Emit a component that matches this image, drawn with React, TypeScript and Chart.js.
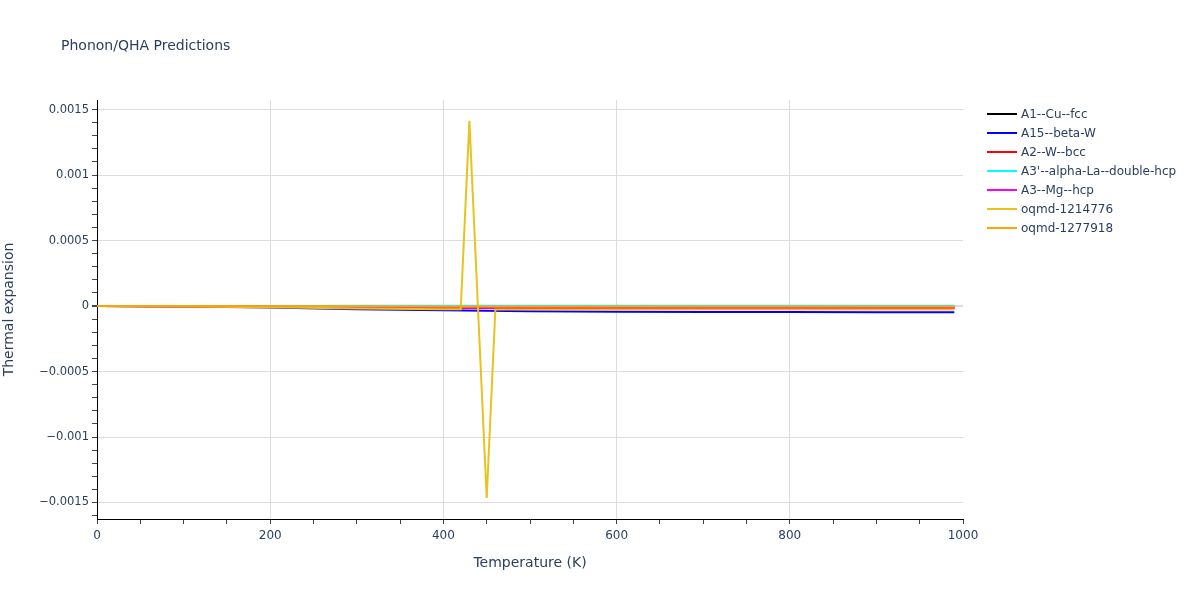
import React, { useEffect, useRef } from "react";
import { Chart, registerables } from "chart.js";

Chart.register(...registerables);

// ---------- data ----------
const chartTitle = "Phonon/QHA Predictions";
const xAxisTitle = "Temperature (K)";
const yAxisTitle = "Thermal expansion";

const seriesNames = [
  "A1--Cu--fcc",
  "A15--beta-W",
  "A2--W--bcc",
  "A3'--alpha-La--double-hcp",
  "A3--Mg--hcp",
  "oqmd-1214776",
  "oqmd-1277918",
];
const seriesColors = ["#000000", "#0000ff", "#ff0000", "#00ffff", "#ff00ff", "#e8c21f", "#ffa500"];

const baseTemps = [0, 100, 200, 300, 400, 500, 600, 700, 800, 900, 990];
const a1Values = [0, -0.000002, -0.000006, -0.000008, -0.000009, -0.00001, -0.00001, -0.000011, -0.000011, -0.000011, -0.000011];
const a15Values = [0, -0.000003, -0.000012, -0.000025, -0.000033, -0.00004, -0.000043, -0.000045, -0.000046, -0.000047, -0.000048];
const a2Values = [0, -0.000001, -0.000005, -0.00001, -0.000014, -0.000015, -0.000016, -0.000016, -0.000017, -0.000017, -0.000017];
const a3pValues = [0, 0.000001, 0.000001, 0.000002, 0.000002, 0.000002, 0.000002, 0.000002, 0.000002, 0.000002, 0.000002];
const a3Values = [0, -0.000001, -0.000004, -0.000007, -0.000009, -0.00001, -0.00001, -0.000011, -0.000011, -0.000011, -0.000011];
const oqmd1214776Temps = [0, 100, 200, 300, 400, 420, 430, 450, 460, 500, 600, 700, 800, 900, 990];
const oqmd1214776Values = [0, -0.000003, -0.00001, -0.000018, -0.000024, -0.000025, 0.001414, -0.001466, -0.000027, -0.000027, -0.000027, -0.000027, -0.000027, -0.000027, -0.000027];
const oqmd1277918Values = [0, 0, -0.000001, -0.000002, -0.000003, -0.000004, -0.000004, -0.000004, -0.000004, -0.000004, -0.000004];

const seriesTemps = [baseTemps, baseTemps, baseTemps, baseTemps, baseTemps, oqmd1214776Temps, baseTemps];
const seriesValues = [a1Values, a15Values, a2Values, a3pValues, a3Values, oqmd1214776Values, oqmd1277918Values];

const xMin = 0;
const xMax = 1000;
const yMin = -0.001626;
const yMax = 0.001573;

// ---------- styling ----------
const FONT = "'DejaVu Sans', Verdana, sans-serif";
const TEXT = "#2a3f5f";
const GRID = "#dddddd";

const overlayPlugin = {
  id: "overlay",
  afterDraw(chart: any) {
    const ctx = chart.ctx;
    ctx.save();
    ctx.fillStyle = TEXT;
    ctx.font = `14px ${FONT}`;
    ctx.textBaseline = "middle";
    ctx.textAlign = "left";
    ctx.fillText(chartTitle, 61, 46);

    ctx.font = `12px ${FONT}`;
    seriesNames.forEach((name, i) => {
      const y = 114 + i * 19;
      ctx.strokeStyle = seriesColors[i];
      ctx.lineWidth = 2;
      ctx.beginPath();
      ctx.moveTo(987, y);
      ctx.lineTo(1017, y);
      ctx.stroke();
      ctx.fillStyle = TEXT;
      ctx.fillText(name, 1021, y + 1);
    });
    ctx.restore();
  },
};

function isMultiple(v: number, step: number) {
  const k = Math.round(v / step);
  return Math.abs(k * step - v) < step * 1e-6;
}

export default function App() {
  const canvasRef = useRef<HTMLCanvasElement | null>(null);

  useEffect(() => {
    document.body.style.margin = "0";
    const canvas = canvasRef.current;
    if (!canvas) return;
    const n = seriesNames.length;
    const datasets = seriesNames.map((name, i) => ({
      label: name,
      data: seriesTemps[i].map((t, j) => ({ x: t, y: seriesValues[i][j] })),
      borderColor: seriesColors[i],
      backgroundColor: seriesColors[i],
      borderWidth: 2,
      pointRadius: 0,
      tension: 0,
      fill: false,
      order: n - i,
    }));

    const chart = new Chart(canvas, {
      type: "line",
      data: { datasets },
      plugins: [overlayPlugin],
      options: {
        animation: false,
        responsive: false,
        maintainAspectRatio: false,
        layout: { padding: { left: 0, right: 237, top: 100, bottom: 0 } },
        plugins: { legend: { display: false }, tooltip: { enabled: false }, title: { display: false } },
        scales: {
          x: {
            type: "linear",
            min: xMin,
            max: xMax,
            afterFit: (s: any) => {
              s.height = 81;
            },
            border: { color: "#000000", width: 1 },
            grid: {
              color: (c: any) => {
                const v = c.tick ? c.tick.value : NaN;
                if (!isMultiple(v, 200) || v === xMin || v === xMax) return "rgba(0,0,0,0)";
                return GRID;
              },
              tickColor: "#444444",
              tickLength: 5,
            },
            ticks: {
              stepSize: 50,
              autoSkip: false,
              includeBounds: false,
              maxRotation: 0,
              padding: 5,
              color: TEXT,
              font: { family: FONT, size: 12 },
              callback: (v: any) => (isMultiple(Number(v), 200) ? String(Math.round(Number(v))) : ""),
            },
            title: {
              display: true,
              text: xAxisTitle,
              color: TEXT,
              font: { family: FONT, size: 14 },
              padding: { top: 0, bottom: 28.6 },
            },
          },
          y: {
            type: "linear",
            min: yMin,
            max: yMax,
            afterFit: (s: any) => {
              s.width = 97;
            },
            border: { color: "#000000", width: 1 },
            grid: {
              color: (c: any) => {
                const v = c.tick ? c.tick.value : NaN;
                if (!isMultiple(v, 0.0005)) return "rgba(0,0,0,0)";
                return GRID;
              },
              lineWidth: (c: any) => {
                const v = c.tick ? c.tick.value : NaN;
                return Math.abs(v) < 1e-9 ? 2 : 1;
              },
              tickColor: "#444444",
              tickLength: 5,
            },
            ticks: {
              stepSize: 0.0001,
              autoSkip: false,
              includeBounds: false,
              padding: 3,
              color: TEXT,
              font: { family: FONT, size: 11.5 },
              callback: (v: any) => {
                const num = Number(v);
                if (!isMultiple(num, 0.0005)) return "";
                const k = Math.round(num / 0.0005);
                if (k === 0) return "0";
                const s = parseFloat((k * 0.0005).toFixed(4)).toString();
                return s.replace("-", "\u2212");
              },
            },
            title: {
              display: true,
              text: yAxisTitle,
              color: TEXT,
              font: { family: FONT, size: 14 },
              padding: { top: 1, bottom: 0 },
            },
          },
        },
      },
    } as any);

    return () => chart.destroy();
  }, []);

  return (
    <div style={{ position: "absolute", left: 0, top: 0, width: 1200, height: 600, background: "#ffffff" }}>
      <canvas ref={canvasRef} width={1200} height={600} style={{ width: 1200, height: 600, display: "block" }} />
    </div>
  );
}
